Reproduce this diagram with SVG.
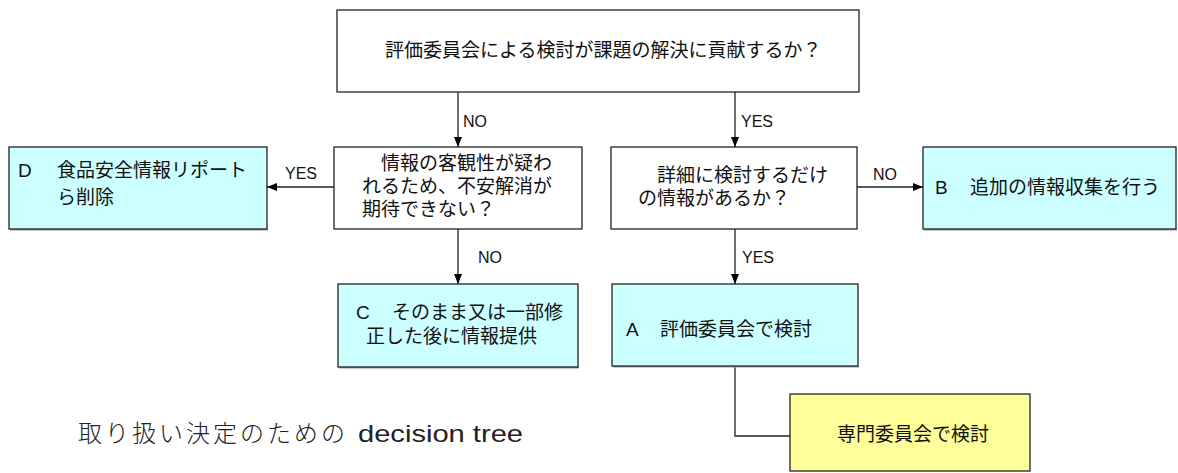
<svg xmlns="http://www.w3.org/2000/svg" width="1178" height="473" viewBox="0 0 1178 473">
<style>
.box{stroke:#222;stroke-width:1.3;}
.w{fill:#ffffff;}
.c{fill:#ccffff;}
.y{fill:#ffff99;}
.sh{fill:#999;}
.t{font-family:"Liberation Sans","Noto Sans CJK JP",sans-serif;font-size:19px;fill:#111;}
.l{font-family:"Liberation Sans","Noto Sans CJK JP",sans-serif;font-size:16px;fill:#111;}
.cn{stroke:#222;stroke-width:1.3;fill:none;}
</style>
<defs>
<marker id="ah" viewBox="0 0 10 10" refX="10" refY="5" markerWidth="10" markerHeight="10" markerUnits="userSpaceOnUse" orient="auto">
<path d="M0,1 L10,5 L0,9 Z" fill="#000"/>
</marker>
</defs>
<rect width="1178" height="473" fill="#fff"/>
<g id="connectors">
<line class="cn" x1="458" y1="92" x2="458" y2="147" marker-end="url(#ah)"/>
<line class="cn" x1="735" y1="92" x2="735" y2="147" marker-end="url(#ah)"/>
<line class="cn" x1="334" y1="187" x2="267" y2="187" marker-end="url(#ah)"/>
<line class="cn" x1="857" y1="187" x2="923" y2="187" marker-end="url(#ah)"/>
<line class="cn" x1="458" y1="229" x2="458" y2="284" marker-end="url(#ah)"/>
<line class="cn" x1="735" y1="229" x2="735" y2="284" marker-end="url(#ah)"/>
<polyline class="cn" points="735,366 735,436 790,436"/>
<text class="l" x="463" y="127">NO</text>
<text class="l" x="741" y="127">YES</text>
<text class="l" x="285" y="179">YES</text>
<text class="l" x="873" y="180">NO</text>
<text class="l" x="478" y="263">NO</text>
<text class="l" x="742" y="263">YES</text>
</g>
<g id="q1">
<rect class="box w" x="337" y="10" width="522" height="82"/>
<text class="t" x="385" y="57">評価委員会による検討が課題の解決に貢献するか？</text>
</g>
<g id="q2">
<rect class="box w" x="334" y="147" width="248" height="82"/>
<text class="t" x="381" y="170">情報の客観性が疑わ</text>
<text class="t" x="362" y="193">れるため、不安解消が</text>
<text class="t" x="362" y="216">期待できない？</text>
</g>
<g id="q3">
<rect class="box w" x="611" y="147" width="246" height="82"/>
<text class="t" x="657" y="182">詳細に検討するだけ</text>
<text class="t" x="638" y="205">の情報があるか？</text>
</g>
<g id="d">
<rect class="sh" x="10" y="229" width="258" height="1.5"/>
<rect class="box c" x="9" y="147" width="258" height="82"/>
<text class="t" x="18" y="177">D</text>
<text class="t" x="57" y="177">食品安全情報リポート</text>
<text class="t" x="57" y="204">ら削除</text>
</g>
<g id="b">
<rect class="sh" x="924" y="229" width="253" height="1.5"/>
<rect class="box c" x="923" y="147" width="253" height="82"/>
<text class="t" x="935" y="194">B</text>
<text class="t" x="970" y="194">追加の情報収集を行う</text>
</g>
<g id="c">
<rect class="sh" x="339" y="367" width="240" height="1.5"/>
<rect class="box c" x="338" y="284" width="240" height="83"/>
<text class="t" x="356" y="319">C</text>
<text class="t" x="392" y="319">そのまま又は一部修</text>
<text class="t" x="366" y="343">正した後に情報提供</text>
</g>
<g id="a">
<rect class="sh" x="613" y="366" width="246" height="1.5"/>
<rect class="box c" x="612" y="284" width="246" height="82"/>
<text class="t" x="626" y="336">A</text>
<text class="t" x="660" y="336">評価委員会で検討</text>
</g>
<g id="e">
<rect class="box y" x="790" y="394" width="240" height="77"/>
<text class="t" x="837" y="441">専門委員会で検討</text>
</g>
<text x="78" y="442" font-family="'Noto Sans CJK JP',sans-serif" font-size="24" font-weight="300" letter-spacing="3" fill="#222">取り扱い決定のための<tspan font-family="'Liberation Sans',sans-serif" font-weight="400" letter-spacing="0" x="358" textLength="165" lengthAdjust="spacingAndGlyphs">decision tree</tspan></text>
</svg>
